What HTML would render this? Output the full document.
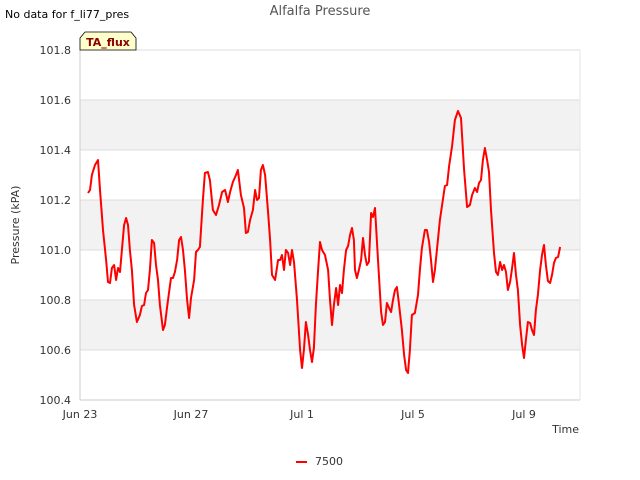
<!DOCTYPE html>
<html><head><meta charset="utf-8"><style>
body{margin:0;background:#fff;}
svg{display:block;font-family:"DejaVu Sans","Liberation Sans",sans-serif;}
</style></head><body>
<svg id="chart" width="640" height="480" viewBox="0 0 640 480">
<text x="5" y="18" font-size="11" fill="#000">No data for f_li77_pres</text>
<text x="320" y="15" font-size="13" fill="#555" text-anchor="middle">Alfalfa Pressure</text>
<g id="bands"></g>
<g id="yaxis"></g>
<g id="xaxis"></g>
<line x1="80" y1="50" x2="80" y2="400" stroke="#ccc"/>
<path d="M80,50 L80,38 L85,32 L131,32 L136,38 L136,50 Z" fill="#ffffcc" stroke="#000" stroke-width="0.8"/>
<text x="108" y="46" font-size="11" font-weight="bold" fill="#8b0000" text-anchor="middle">TA_flux</text>
<text transform="translate(19,225) rotate(-90)" font-size="11" fill="#333" text-anchor="middle">Pressure (kPA)</text>
<text x="579" y="433" font-size="11" fill="#333" text-anchor="end">Time</text>
<path id="series" fill="none" stroke="#ff0000" stroke-width="2" stroke-linejoin="round"/>
<line x1="296" y1="462" x2="307" y2="462" stroke="#ff0000" stroke-width="2"/>
<text x="315" y="465" font-size="11" fill="#333">7500</text>
</svg>
<script>
const yTicks=[100.4,100.6,100.8,101.0,101.2,101.4,101.6,101.8];
const xTickDays=[0,4,8,12,16];
const xTickLabels=["Jun 23","Jun 27","Jul 1","Jul 5","Jul 9"];
const days=[0.29,0.36,0.43,0.54,0.65,0.72,0.83,0.94,1.01,1.08,1.15,1.23,1.30,1.37,1.44,1.51,1.59,1.66,1.73,1.80,1.87,1.95,2.05,2.16,2.23,2.31,2.38,2.45,2.52,2.59,2.67,2.74,2.81,2.88,2.99,3.06,3.14,3.21,3.28,3.35,3.42,3.50,3.57,3.64,3.71,3.78,3.86,3.93,4.00,4.11,4.18,4.25,4.32,4.43,4.50,4.61,4.68,4.79,4.90,5.01,5.12,5.23,5.33,5.41,5.51,5.62,5.69,5.80,5.91,5.98,6.05,6.13,6.23,6.31,6.38,6.45,6.52,6.59,6.67,6.77,6.85,6.92,7.03,7.14,7.21,7.28,7.35,7.42,7.50,7.57,7.64,7.71,7.82,7.93,8.00,8.07,8.14,8.22,8.29,8.36,8.43,8.50,8.58,8.65,8.72,8.83,8.94,9.01,9.08,9.15,9.23,9.30,9.37,9.44,9.51,9.59,9.66,9.73,9.80,9.87,9.91,9.98,10.05,10.13,10.20,10.27,10.34,10.41,10.49,10.56,10.63,10.74,10.85,10.92,10.99,11.06,11.14,11.21,11.28,11.35,11.42,11.50,11.60,11.68,11.75,11.82,11.89,11.96,12.07,12.18,12.25,12.32,12.43,12.50,12.58,12.65,12.72,12.79,12.86,12.97,13.05,13.15,13.23,13.30,13.41,13.51,13.62,13.73,13.84,13.95,14.05,14.13,14.23,14.31,14.38,14.45,14.52,14.59,14.67,14.74,14.81,14.92,14.99,15.06,15.14,15.21,15.28,15.35,15.42,15.50,15.57,15.64,15.71,15.78,15.86,15.93,16.00,16.07,16.14,16.22,16.29,16.36,16.43,16.50,16.58,16.65,16.72,16.79,16.86,16.94,17.01,17.08,17.15,17.23,17.30];
const pressure=[101.228,101.24,101.30,101.34,101.36,101.24,101.08,100.96,100.872,100.868,100.928,100.94,100.88,100.928,100.912,101.00,101.10,101.128,101.10,101.00,100.92,100.78,100.712,100.74,100.776,100.78,100.828,100.84,100.92,101.04,101.028,100.94,100.88,100.78,100.68,100.70,100.772,100.832,100.888,100.888,100.912,100.96,101.04,101.052,101.00,100.92,100.80,100.728,100.808,100.88,100.992,101.00,101.012,101.20,101.308,101.312,101.28,101.16,101.14,101.18,101.232,101.24,101.192,101.232,101.272,101.30,101.32,101.22,101.168,101.068,101.072,101.12,101.16,101.24,101.20,101.208,101.32,101.34,101.30,101.16,101.04,100.90,100.88,100.96,100.96,100.98,100.92,101.00,100.988,100.94,101.00,100.952,100.80,100.60,100.528,100.60,100.712,100.66,100.60,100.552,100.608,100.78,100.92,101.032,101.00,100.98,100.92,100.80,100.70,100.78,100.848,100.78,100.86,100.828,100.92,101.00,101.016,101.06,101.088,101.04,100.92,100.888,100.92,100.96,101.048,100.98,100.94,100.952,101.148,101.132,101.168,100.96,100.752,100.70,100.712,100.788,100.768,100.752,100.80,100.84,100.852,100.78,100.68,100.58,100.52,100.508,100.60,100.74,100.748,100.82,100.92,101.008,101.08,101.08,101.032,100.96,100.872,100.92,101.00,101.12,101.18,101.256,101.26,101.336,101.416,101.52,101.556,101.528,101.32,101.172,101.18,101.22,101.248,101.232,101.268,101.28,101.36,101.408,101.36,101.312,101.16,100.988,100.912,100.90,100.952,100.92,100.94,100.912,100.84,100.872,100.928,100.988,100.90,100.84,100.70,100.62,100.568,100.64,100.712,100.708,100.68,100.66,100.76,100.82,100.92,100.98,101.02,100.94,100.876,100.868,100.90,100.948,100.968,100.972,101.012];

const NS="http://www.w3.org/2000/svg";
const L=80,R=580,T=50,B=400,YMIN=100.4,YMAX=101.8,DAYPX=27.75;
function xs(d){return L+d*DAYPX;}
function ys(v){return B-(v-YMIN)/(YMAX-YMIN)*(B-T);}
function mk(tag,attrs,parent){const e=document.createElementNS(NS,tag);for(const k in attrs)e.setAttribute(k,attrs[k]);parent.appendChild(e);return e;}
const bands=document.getElementById('bands');
for(let i=0;i<yTicks.length-1;i++){
  const r=mk('rect',{x:L,y:ys(yTicks[i+1]),width:R-L,height:ys(yTicks[i])-ys(yTicks[i+1]),fill:(i%2===0)?'#fff':'#f2f2f2'},bands);
  
  
}
const ya=document.getElementById('yaxis');
yTicks.forEach(v=>{
  const g=mk('line',{x1:L,x2:R,y1:ys(v),y2:ys(v),stroke:'#dcdcdc','stroke-width':1},ya);
  
  
  const t=mk('text',{x:L-9,y:ys(v)+4,'font-size':11,fill:'#333','text-anchor':'end'},ya);
  t.textContent=v.toFixed(1);
  
  
});
const xa=document.getElementById('xaxis');
mk('line',{x1:L,x2:R,y1:B,y2:B,stroke:'#ccc'},xa);
mk('line',{x1:R,x2:R,y1:T,y2:B,stroke:'#e6e6e6'},xa);
xTickDays.forEach((d,i)=>{
  const t=mk('text',{x:xs(d),y:B+18,'font-size':11,fill:'#333','text-anchor':'middle'},xa);
  t.textContent=xTickLabels[i];
  
  
});
let d='';
days.forEach((t,i)=>{d+=(i?'L':'M')+xs(t).toFixed(1)+','+ys(pressure[i]).toFixed(1);});
document.getElementById('series').setAttribute('d',d);
</script>
</body></html>
